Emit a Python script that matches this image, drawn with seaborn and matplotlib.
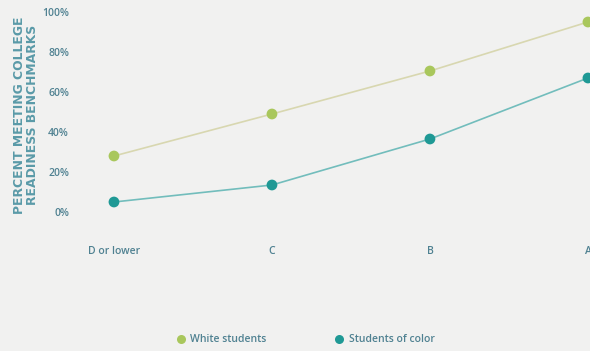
import matplotlib
matplotlib.use("Agg")
import matplotlib.pyplot as plt
import seaborn as sns
import pandas as pd
from matplotlib.lines import Line2D

grades = ["D or lower", "C", "B", "A"]
white_students = [28, 49, 70.5, 95]
students_of_color = [5, 13.5, 36.5, 67]
series_names = ["White students", "Students of color"]
ytick_values = [0, 20, 40, 60, 80, 100]
ytick_labels = ["0%", "20%", "40%", "60%", "80%", "100%"]

df = pd.DataFrame({
    "grade": list(range(len(grades))) * 2,
    "pct": white_students + students_of_color,
    "group": [series_names[0]] * len(grades) + [series_names[1]] * len(grades),
})

sns.set_theme(style="white")
plt.rcParams["font.family"] = ["Open Sans", "DejaVu Sans"]

bg = "#f1f1f0"
text_col = "#4f8191"
marker_cols = {"White students": "#a9c75c", "Students of color": "#1f9995"}
line_cols = {"White students": "#d8d7b0", "Students of color": "#72bdbc"}

fig = plt.figure(figsize=(5.9, 3.51), dpi=100, facecolor=bg)
ax = fig.add_axes([80 / 590, 1 - 240 / 351, 510 / 590, 240 / 351])
ax.set_facecolor(bg)

# lines
sns.lineplot(data=df, x="grade", y="pct", hue="group", palette=line_cols,
             linewidth=1.2, legend=False, ax=ax, zorder=2)
# markers
sns.scatterplot(data=df, x="grade", y="pct", hue="group", palette=marker_cols,
                s=60, edgecolor="none", legend=False, ax=ax, zorder=3)

ax.set_xlim(-0.215, 3.013)
ax.set_ylim(-14, 106)
ax.set_xticks(range(len(grades)))
ax.set_xticklabels(grades)
ax.set_yticks(ytick_values)
ax.set_yticklabels(ytick_labels)
ax.tick_params(axis="both", length=0, labelsize=7.5, labelcolor=text_col)
ax.tick_params(axis="x", pad=4)
ax.tick_params(axis="y", pad=8)
for lab in ax.get_xticklabels() + ax.get_yticklabels():
    lab.set_fontweight("semibold")
for s in ax.spines.values():
    s.set_visible(False)
ax.set_xlabel("")
ax.set_ylabel("")

fig.text(26 / 590, 1 - 115 / 351, "PERCENT MEETING COLLEGE\nREADINESS BENCHMARKS",
         rotation=90, ha="center", va="center", fontsize=8.9, fontweight="bold",
         family=["DejaVu Sans"], color="#5a9aa8", linespacing=0.95)

handles = [Line2D([0], [0], marker="o", linestyle="none", markersize=6.5,
                  markerfacecolor=marker_cols[n], markeredgecolor="none")
           for n in series_names]
leg = fig.legend(handles, series_names, loc="center", bbox_to_anchor=(305 / 590, 1 - 340 / 351),
                 ncol=2, frameon=False, fontsize=7.5, columnspacing=6.5,
                 handletextpad=0.4, handlelength=1.0)
for t in leg.get_texts():
    t.set_color(text_col)
    t.set_fontweight("semibold")

fig.savefig("out.png", dpi=100, facecolor=bg)
